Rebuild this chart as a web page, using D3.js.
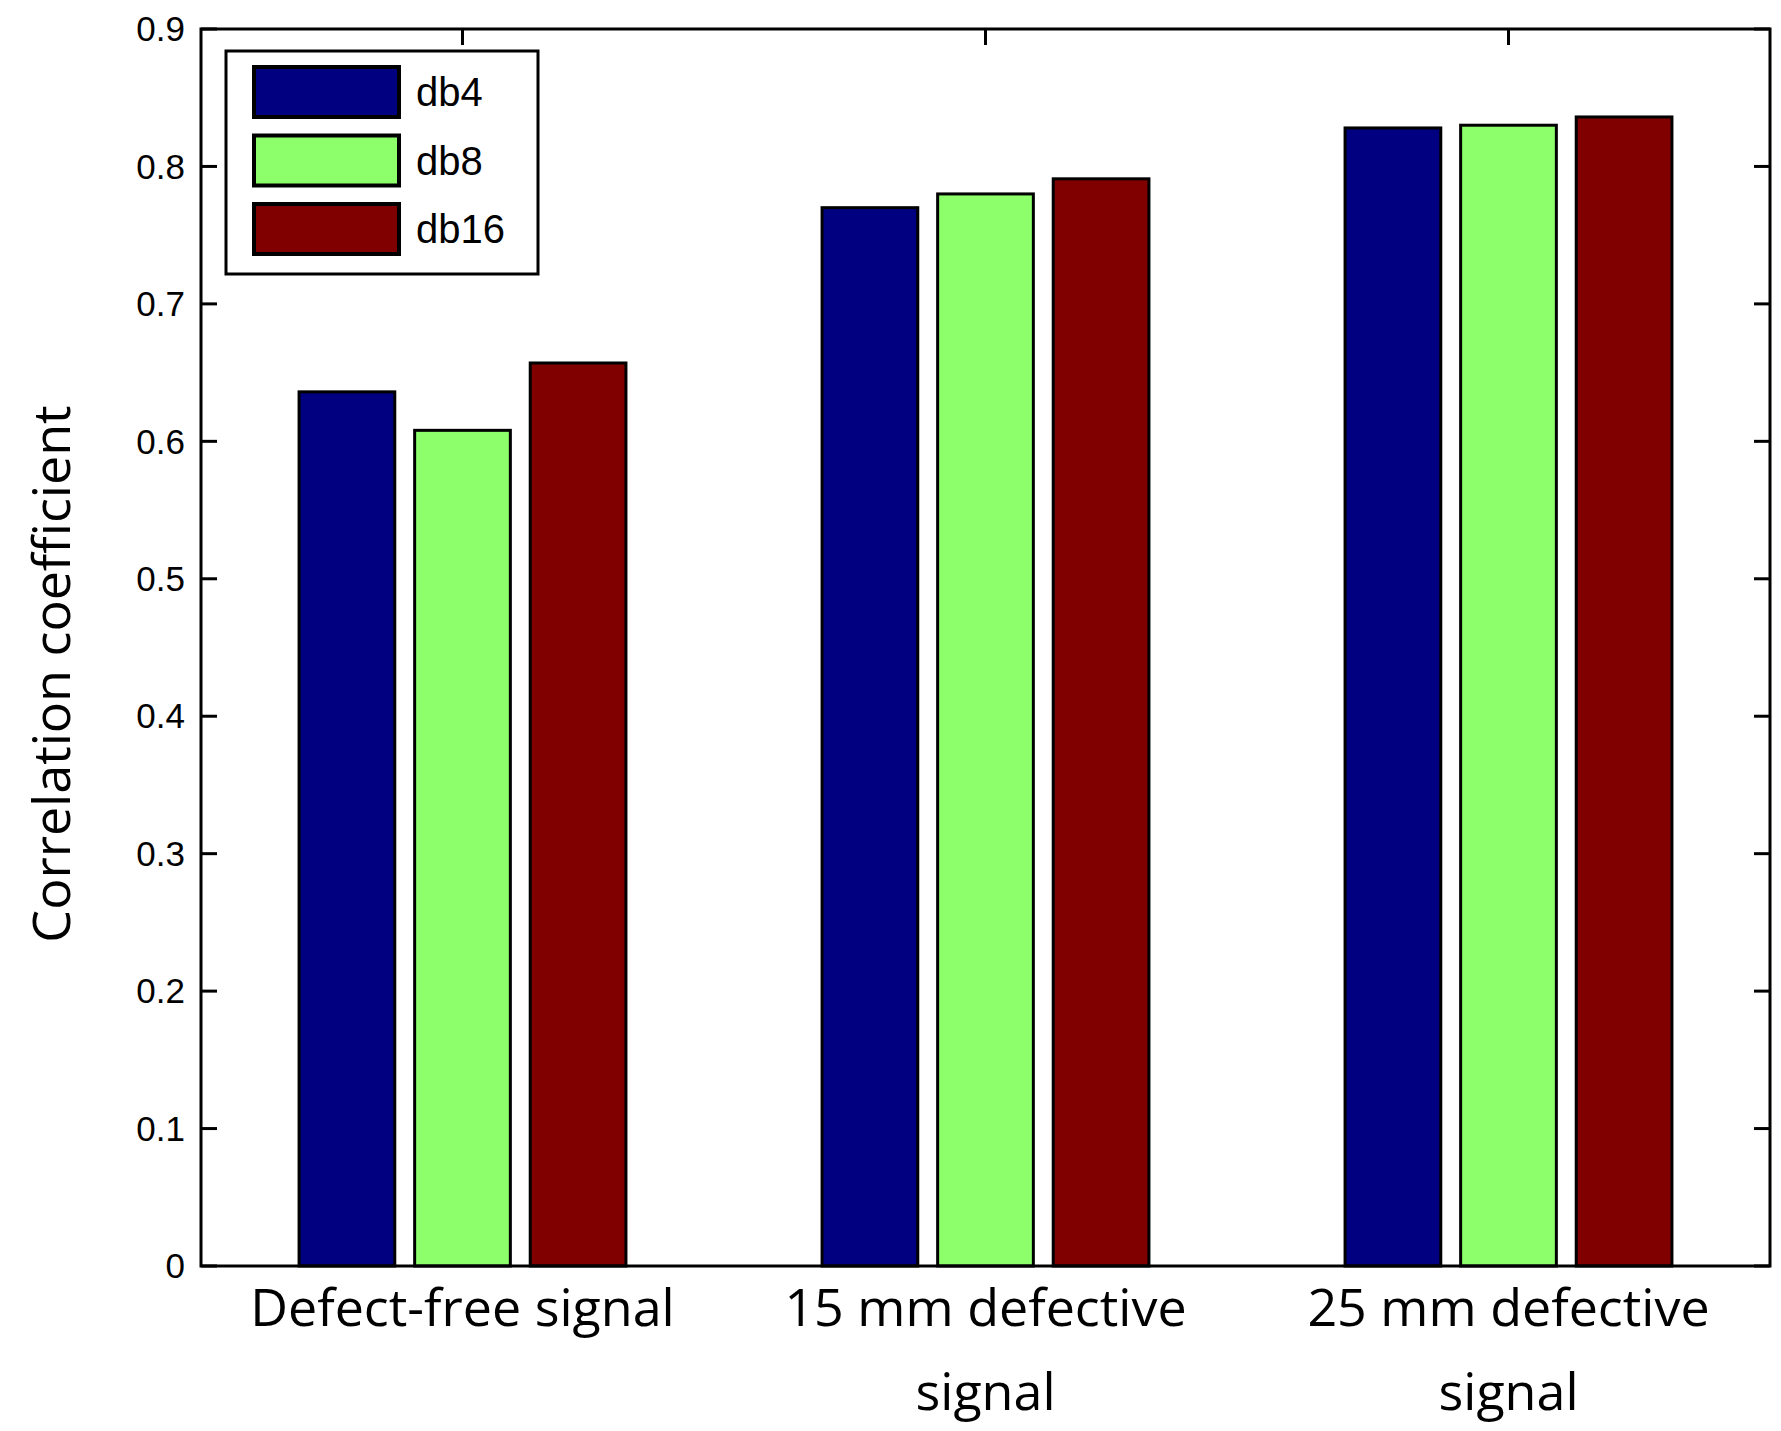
<!DOCTYPE html>
<html><head><meta charset="utf-8">
<script src="https://cdn.jsdelivr.net/npm/d3@7"></script>
<style>body{margin:0;background:#fff}</style>
</head><body>
<script>
const categories = [['Defect-free signal'], ['15 mm defective', 'signal'], ['25 mm defective', 'signal']]
const seriesNames = ['db4', 'db8', 'db16']
const colors = ['#000080', '#8cff6a', '#800000']
const db4 = [0.636, 0.770, 0.828]
const db8 = [0.608, 0.780, 0.830]
const db16 = [0.657, 0.791, 0.836]
const yTicks = [0, 0.1, 0.2, 0.3, 0.4, 0.5, 0.6, 0.7, 0.8, 0.9]

const series = [db4, db8, db16]
const m = {left: 201, right: 1770, top: 29, bottom: 1266}

const svg = d3.select('body').append('svg').attr('width', 1781).attr('height', 1431)

const x = d3.scaleLinear().domain([0.5, 3.5]).range([m.left, m.right])
const y = d3.scaleLinear().domain([0, 0.9]).range([m.bottom, m.top])
const bw = 0.183, off = 0.221

series.forEach((s, si) => {
	svg.append('g').selectAll('rect').data(s).enter().append('rect')
	.attr('x', (d, i) => x(i + 1 + (si - 1) * off - bw / 2))
	.attr('width', x(bw) - x(0))
	.attr('y', d => y(d))
	.attr('height', d => y(0) - y(d))
	.attr('fill', colors[si])
	.attr('stroke', '#000').attr('stroke-width', 3)
})

// frame
svg.append('rect').attr('x', m.left).attr('y', m.top)
.attr('width', m.right - m.left).attr('height', m.bottom - m.top)
.attr('fill', 'none').attr('stroke', '#000').attr('stroke-width', 3)

const tl = 16
yTicks.forEach(t => {
	svg.append('line').attr('x1', m.left).attr('x2', m.left + tl).attr('y1', y(t)).attr('y2', y(t)).attr('stroke', '#000').attr('stroke-width', 3)
	svg.append('line').attr('x1', m.right).attr('x2', m.right - tl).attr('y1', y(t)).attr('y2', y(t)).attr('stroke', '#000').attr('stroke-width', 3)
	svg.append('text').attr('x', m.left - 16).attr('y', y(t)).attr('dy', '0.35em')
	.attr('text-anchor', 'end').attr('font-family', 'Liberation Sans, Arial').attr('font-size', 35)
	.text(t === 0 ? '0' : t.toFixed(1))
})

categories.forEach((c, i) => {
	svg.append('line').attr('x1', x(i + 1)).attr('x2', x(i + 1)).attr('y1', m.top).attr('y2', m.top + tl).attr('stroke', '#000').attr('stroke-width', 3)
	c.forEach((line, li) => {
		svg.append('text').attr('x', x(i + 1)).attr('y', 1326 + li * 84)
		.attr('text-anchor', 'middle').attr('font-family', 'Open Sans, sans-serif').attr('font-size', 52)
		.text(line)
	})
})

svg.append('text').attr('transform', 'translate(70,674) rotate(-90)')
.attr('text-anchor', 'middle').attr('font-family', 'Open Sans, sans-serif').attr('font-size', 52)
.text('Correlation coefficient')

// legend
const lg = svg.append('g')
lg.append('rect').attr('x', 226).attr('y', 51).attr('width', 312).attr('height', 223)
.attr('fill', '#fff').attr('stroke', '#000').attr('stroke-width', 3)
seriesNames.forEach((n, i) => {
	lg.append('rect').attr('x', 254).attr('y', 67 + i * 68.5).attr('width', 145).attr('height', 50)
	.attr('fill', colors[i]).attr('stroke', '#000').attr('stroke-width', 4)
	lg.append('text').attr('x', 416).attr('y', 92 + i * 68.5).attr('dy', '0.35em')
	.attr('font-family', 'Liberation Sans, Arial').attr('font-size', 40).text(n)
})
</script>
</body></html>
